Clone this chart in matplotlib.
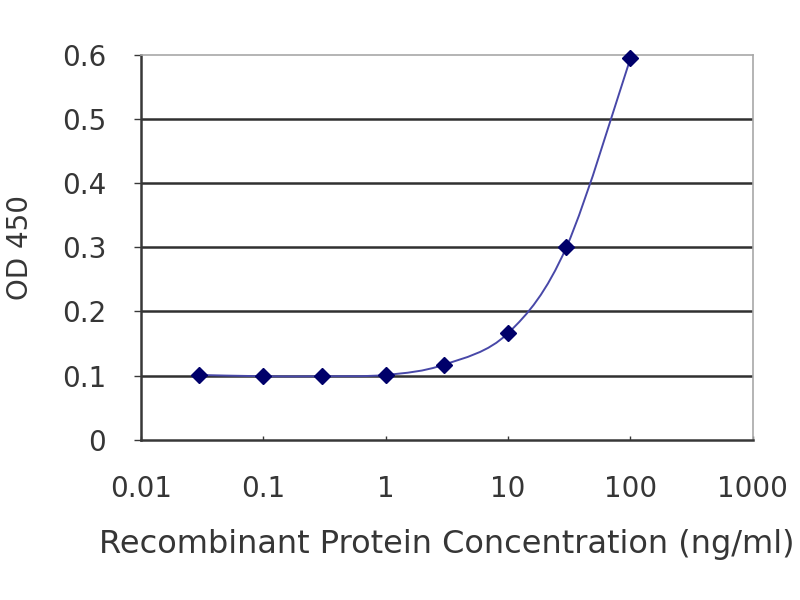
import numpy as np
import matplotlib
matplotlib.use('Agg')
import matplotlib.pyplot as plt
from matplotlib.path import Path
from matplotlib.patches import PathPatch

conc = [0.03, 0.1, 0.3, 1, 3, 10, 30, 100]
od450 = [0.101, 0.099, 0.099, 0.101, 0.117, 0.166, 0.300, 0.594]
xticks = [0.01, 0.1, 1, 10, 100, 1000]
xtick_labels = ['0.01', '0.1', '1', '10', '100', '1000']
yticks = [0, 0.1, 0.2, 0.3, 0.4, 0.5, 0.6]
ytick_labels = ['0', '0.1', '0.2', '0.3', '0.4', '0.5', '0.6']

plt.rcParams['font.family'] = ['DejaVu Sans']
text_col = '#363636'

fig = plt.figure(figsize=(8, 6), dpi=100)
ax = fig.add_axes([0.176, 0.267, 0.765, 0.642])
ax.set_xscale('log')
ax.set_xlim(0.01, 1000)
ax.set_ylim(0, 0.6)

# horizontal gridlines
for yv in yticks[1:-1]:
    ax.axhline(yv, color='#303030', lw=1.8, zorder=1)

# smooth curve (cardinal spline as bezier, in log-x space)
lx = np.log10(conc)
ly = np.array(od450)
n = len(lx)
verts = [(conc[0], od450[0])]
codes = [Path.MOVETO]
t = 1 / 6
for i in range(n - 1):
    p0 = i - 1 if i > 0 else i
    p3 = i + 2 if i + 2 < n else i + 1
    c1 = (lx[i] + (lx[i + 1] - lx[p0]) * t, ly[i] + (ly[i + 1] - ly[p0]) * t)
    c2 = (lx[i + 1] - (lx[p3] - lx[i]) * t, ly[i + 1] - (ly[p3] - ly[i]) * t)
    verts += [(10 ** c1[0], c1[1]), (10 ** c2[0], c2[1]), (conc[i + 1], od450[i + 1])]
    codes += [Path.CURVE4] * 3
patch = PathPatch(Path(verts, codes), fill=False, edgecolor='#4848a8', lw=1.4, zorder=3)
ax.add_patch(patch)

ax.plot(conc, od450, linestyle='none', marker='D', markersize=8,
        color='#00006a', zorder=4, clip_on=False)

for s in ['top', 'right']:
    ax.spines[s].set_color('#a8a8a8')
    ax.spines[s].set_linewidth(1.2)
for s in ['left', 'bottom']:
    ax.spines[s].set_color('#383838')
    ax.spines[s].set_linewidth(1.8)

ax.set_xticks(xticks)
ax.set_xticklabels(xtick_labels)
ax.minorticks_off()
ax.set_yticks(yticks)
ax.set_yticklabels(ytick_labels)
ax.tick_params(axis='x', direction='in', length=3, width=1, colors='#383838',
               labelcolor=text_col, labelsize=20, pad=25)
ax.tick_params(axis='y', direction='out', length=5, width=1, colors='#383838',
               labelcolor=text_col, labelsize=20, pad=20)

ax.set_xlabel('Recombinant Protein Concentration (ng/ml)', fontsize=23,
              color=text_col, labelpad=19)
ax.set_ylabel('OD 450', fontsize=20, color=text_col, labelpad=20)

fig.savefig('out.png', dpi=100)
